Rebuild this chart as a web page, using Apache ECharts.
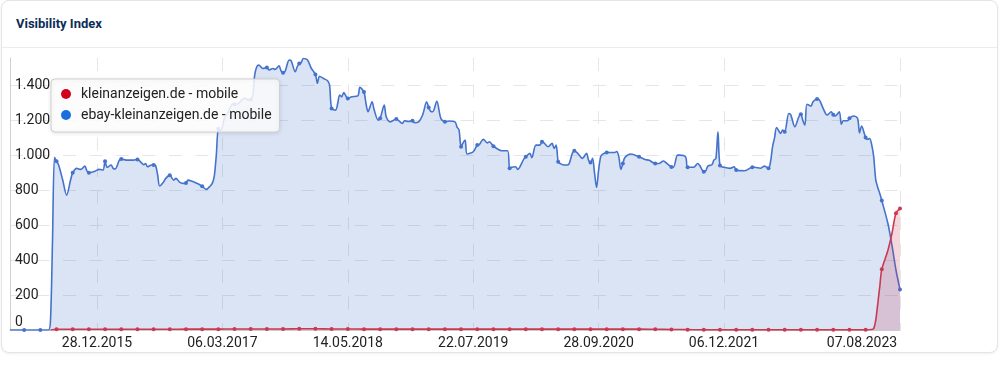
<!DOCTYPE html>
<html><head><meta charset="utf-8">
<script src="https://cdn.jsdelivr.net/npm/echarts@6/dist/echarts.min.js"></script>
<style>
html,body{margin:0;padding:0;background:#fff;width:1000px;height:390px;overflow:hidden;font-family:Roboto,"Noto Sans",sans-serif}
#card{position:absolute;left:1px;top:0;width:995px;height:351px;border:1px solid #e4e4e4;border-radius:8px;box-shadow:0 1px 3px rgba(0,0,0,0.06);background:#fff}
#hdr{position:absolute;left:0;right:0;top:46px;height:1px;background:#ececec}
#title{position:absolute;left:14px;top:15px;font:bold 13px Roboto,sans-serif;color:#0b2c5a}
#chart{position:absolute;left:0;top:0;width:1000px;height:390px}
</style></head><body>
<div id="card"><div id="title">Visibility Index</div><div id="hdr"></div></div>
<div id="chart"></div>
<script>
// ---- data ----
const START_UTC = Date.UTC(2015, 2, 2);   // first weekly category (Monday)
const WEEK_COUNT = 441;
const tickLabels = ['28.12.2015','06.03.2017','14.05.2018','22.07.2019','28.09.2020','06.12.2021','07.08.2023'];
const seriesNames = ['kleinanzeigen.de - mobile', 'ebay-kleinanzeigen.de - mobile'];

// [week index, value]
const ebayPoints = [
[0,0],[7,0],[15,0],[19,0],[20,50],[21,500],[22,987],[23,965],[24,945],[26,860],[28,771],[30,860],[31,899],[33,924],[35,918],[37,937],[38,910],[39,899],[42,908],[44,918],[46,915],[47,965],[48,930],[50,943],[51,924],[52,920],[54,970],[55,977],[58,971],[61,971],[63,975],[65,956],[66,945],[67,952],[68,933],[70,943],[71,943],[72,940],[73,886],[74,823],[76,847],[77,867],[79,884],[81,857],[82,867],[84,844],[86,838],[87,840],[88,857],[90,850],[92,840],[94,829],[95,822],[97,804],[99,823],[100,838],[101,880],[102,1000],[103,1150],[104,1140],[105,1160],[106,1210],[108,1250],[110,1291],[111,1290],[113,1295],[115,1320],[116,1324],[118,1314],[119,1318],[120,1340],[121,1460],[122,1505],[123,1514],[125,1495],[127,1501],[128,1486],[130,1495],[131,1490],[133,1510],[134,1482],[135,1470],[136,1478],[138,1543],[139,1540],[141,1476],[142,1505],[143,1524],[144,1530],[145,1552],[147,1545],[149,1495],[151,1461],[152,1410],[153,1451],[155,1438],[157,1425],[158,1400],[159,1267],[161,1257],[162,1295],[163,1343],[164,1333],[165,1358],[167,1324],[169,1333],[172,1339],[173,1387],[175,1360],[176,1295],[177,1248],[179,1305],[180,1260],[182,1200],[183,1210],[185,1286],[186,1219],[188,1190],[191,1206],[194,1181],[195,1196],[197,1192],[199,1196],[200,1185],[202,1190],[204,1229],[206,1305],[207,1272],[208,1250],[209,1248],[211,1308],[213,1210],[215,1190],[217,1195],[220,1190],[221,1160],[222,1143],[223,1048],[224,1070],[225,1086],[226,1006],[229,1019],[231,1057],[232,1060],[234,1090],[236,1070],[237,1076],[239,1051],[241,1035],[243,1025],[246,1025],[247,924],[248,930],[250,933],[251,918],[254,977],[255,990],[257,1010],[258,985],[260,1057],[262,1057],[263,1076],[264,1070],[266,1048],[268,1067],[269,1038],[270,1057],[271,962],[272,952],[274,943],[276,945],[278,1010],[279,1025],[281,1006],[283,981],[285,1010],[286,971],[287,958],[288,981],[289,895],[290,815],[291,914],[292,990],[293,1005],[295,1015],[299,1015],[300,1020],[301,990],[302,918],[303,952],[304,986],[307,1006],[311,990],[314,975],[316,970],[319,952],[321,952],[323,966],[325,950],[327,932],[328,930],[330,1000],[331,1000],[334,990],[335,930],[338,930],[340,952],[341,940],[343,905],[344,910],[345,937],[347,945],[348,971],[349,981],[350,1133],[351,940],[353,930],[356,924],[358,933],[359,914],[363,910],[367,930],[368,930],[371,925],[373,937],[375,924],[376,962],[377,1048],[378,1100],[379,1158],[381,1124],[382,1143],[383,1133],[385,1238],[386,1230],[388,1162],[390,1219],[391,1234],[392,1196],[393,1171],[394,1291],[396,1280],[397,1305],[399,1320],[400,1318],[402,1267],[404,1229],[406,1248],[407,1230],[408,1223],[410,1248],[411,1177],[412,1196],[414,1196],[415,1210],[417,1223],[419,1210],[420,1127],[421,1166],[423,1100],[424,1090],[425,1095],[426,1060],[427,990],[428,860],[429,815],[430,780],[431,740],[434,610],[436,486],[438,343],[440,232]
];
const kleinPoints = [
[20,0],[23,4],[31,4],[39,4],[47,4],[55,4],[63,4],[71,4],[79,4],[87,5],[95,5],[103,5],[111,6],[119,6],[127,6],[135,6],[143,7],[151,7],[159,6],[167,6],[175,5],[183,5],[191,5],[199,5],[207,5],[215,5],[223,5],[231,5],[239,5],[247,5],[255,5],[263,5],[271,5],[279,5],[287,5],[295,5],[303,5],[311,5],[319,4],[327,3],[335,2],[343,1],[351,1],[359,1],[367,1],[375,1],[383,1],[391,1],[399,1],[407,1],[415,1],[423,1],[426,3],[427,8],[428,55],[429,150],[430,248],[431,347],[434,454],[436,550],[438,667],[440,695]
];
const kleinExtraMarkers = [438, 440];
const ebayExtraMarkers = [440];

// ---- helpers ----
function pad(n){return (n<10?'0':'')+n;}
function fmtDate(d){return pad(d.getUTCDate())+'.'+pad(d.getUTCMonth()+1)+'.'+d.getUTCFullYear();}
const categories = Array.from({length: WEEK_COUNT}, (_, i) => fmtDate(new Date(START_UTC + i*7*86400000)));
function fmtNum(v){return String(v).replace(/\B(?=(\d{3})+(?!\d))/g, '.');}
function buildData(points, extra){
  return points.map(([w, v]) => ((w - 7) % 8 === 0 || extra.includes(w)) ? {value:[w, v]} : {value:[w, v], symbol:'none'});
}
const isTick = (i, v) => tickLabels.includes(v);
const FONT = 'Roboto';
const GRID = '#e6e6e6';

const chart = echarts.init(document.getElementById('chart'), null, {renderer:'canvas'});
chart.setOption({
  animation:false,
  grid:{left:10, right:100, top:58, bottom:60},
  legend:{
    left:51, top:79, orient:'vertical', selectedMode:false, icon:'circle',
    itemWidth:10, itemHeight:10, itemGap:5,
    padding:[7,8,9,10],
    backgroundColor:'rgba(255,255,255,0.85)', borderColor:'#d0d0d0', borderWidth:1, borderRadius:4,
    shadowBlur:4, shadowColor:'rgba(0,0,0,0.12)', shadowOffsetY:1,
    textStyle:{fontFamily:FONT, fontSize:14, color:'#222', lineHeight:16, padding:[0,0,0,5]},
    data:[
      {name:seriesNames[0], itemStyle:{color:'#d0021b'}},
      {name:seriesNames[1], itemStyle:{color:'#1b6fdc'}}
    ]
  },
  xAxis:{
    type:'category', data:categories, boundaryGap:false,
    axisLine:{show:true, lineStyle:{color:'#cccccc'}}, axisTick:{show:false},
    axisLabel:{
      interval:isTick, margin:6, color:'#222', fontSize:14, fontFamily:FONT,
      formatter:(v) => v === tickLabels[tickLabels.length-1] ? '{last|'+v+'}' : v,
      rich:{last:{padding:[0,76,0,0], fontSize:14, color:'#222', fontFamily:FONT}}
    },
    splitLine:{show:true, interval:isTick, lineStyle:{color:GRID, width:1, type:[13,13.5]}}
  },
  yAxis:{
    type:'value', min:0, max:1555, interval:200,
    axisLine:{show:true, lineStyle:{color:'#d0d0d0'}}, axisTick:{show:false},
    axisLabel:{
      inside:true, margin:5, color:'#222', fontSize:14, fontFamily:FONT,
      formatter:(v) => (v % 200) ? '' : (v === 0 ? '{z|0}' : fmtNum(v)),
      rich:{z:{padding:[0,0,16,0], fontSize:14, color:'#222', fontFamily:FONT}}
    },
    splitLine:{show:true, lineStyle:{color:[GRID,GRID,GRID,GRID,GRID,GRID,GRID,GRID,'rgba(0,0,0,0)'], width:1, type:[13,13.5]}}
  },
  series:[
    {
      name:seriesNames[1], type:'line', data:buildData(ebayPoints, ebayExtraMarkers),
      smooth:0.3, symbol:'circle', symbolSize:4, showSymbol:true, showAllSymbol:true,
      lineStyle:{color:'#4573cc', width:1.6}, itemStyle:{color:'#4573cc'},
      areaStyle:{color:'rgb(66,110,200)', opacity:0.19}, emphasis:{disabled:true}, z:2
    },
    {
      name:seriesNames[0], type:'line', data:buildData(kleinPoints, kleinExtraMarkers),
      smooth:0.3, symbol:'circle', symbolSize:4, showSymbol:true, showAllSymbol:true,
      lineStyle:{color:'#c93a52', width:1.6}, itemStyle:{color:'#c93a52'},
      areaStyle:{color:'rgb(200,56,80)', opacity:0.2}, emphasis:{disabled:true}, z:3
    }
  ]
});
</script>
</body></html>
